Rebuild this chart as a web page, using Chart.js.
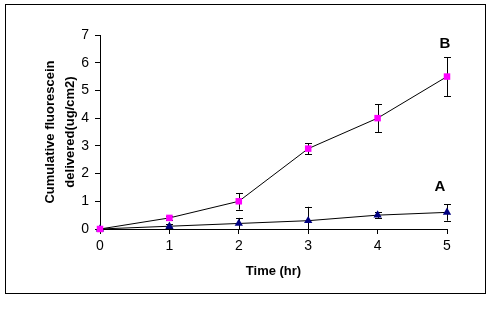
<!DOCTYPE html>
<html>
<head>
<meta charset="utf-8">
<script src="https://cdn.jsdelivr.net/npm/chart.js@4"></script>
<style>
  body { margin: 0; background: #fff; }
  #wrap { position: relative; width: 503px; height: 325px; }
  #frame { position: absolute; left: 5px; top: 4px; width: 479px; height: 288px; border: 1px solid #000; pointer-events: none; }
</style>
</head>
<body>
<div id="wrap">
  <canvas id="chart" width="503" height="325"></canvas>
  <div id="frame"></div>
</div>
<script>
const times = [0, 1, 2, 3, 4, 5];
const seriesB = [0, 0.4, 1.0, 2.9, 4.0, 5.5];
const errorsB = [0, 0.08, 0.3, 0.2, 0.5, 0.7];
const seriesA = [0, 0.1, 0.2, 0.3, 0.5, 0.6];
const errorsA = [0, 0.08, 0.2, 0.5, 0.1, 0.3];
const seriesNames = ['B', 'A'];
const yTicks = [0, 1, 2, 3, 4, 5, 6, 7];

const fontFamily = '"Liberation Sans", Arial, sans-serif';

// error bars + end labels, drawn through the chart's own scales
const errorBarPlugin = {
    id: 'errorBars',
    beforeDatasetsDraw(chart) {
        const ctx = chart.ctx;
        const xs = chart.scales.x;
        const ys = chart.scales.y;
        ctx.save();
        ctx.strokeStyle = '#000';
        ctx.lineWidth = 1;
        chart.data.datasets.forEach(ds => {
            ds.data.forEach((p, i) => {
                const e = ds.errors[i];
                if (!e) return;
                const x = Math.round(xs.getPixelForValue(p.x)) + 0.5;
                const top = ys.getPixelForValue(p.y + e);
                const bot = ys.getPixelForValue(Math.max(0, p.y - e));
                ctx.beginPath();
                ctx.moveTo(x, top); ctx.lineTo(x, bot);
                ctx.moveTo(x - 3.5, Math.round(top) + 0.5); ctx.lineTo(x + 3.5, Math.round(top) + 0.5);
                if (p.y - e > 0) {
                    ctx.moveTo(x - 3.5, Math.round(bot) + 0.5); ctx.lineTo(x + 3.5, Math.round(bot) + 0.5);
                }
                ctx.stroke();
            });
            // series letter above the last error bar
            const last = ds.data.length - 1;
            const lp = ds.data[last];
            ctx.fillStyle = '#000';
            ctx.font = 'bold 15px ' + fontFamily;
            ctx.textAlign = 'center';
            ctx.textBaseline = 'middle';
            ctx.fillText(ds.label, xs.getPixelForValue(lp.x) + ds.labelDx,
                ys.getPixelForValue(lp.y + ds.errors[last]) - ds.labelGap);
        });
        ctx.restore();
    }
};

new Chart(document.getElementById('chart'), {
    type: 'line',
    data: {
        datasets: [{
            label: seriesNames[0],
            data: times.map((t, i) => ({ x: t, y: seriesB[i] })),
            errors: errorsB,
            labelDx: -2,
            labelGap: 13,
            clip: false,
            borderColor: '#000',
            borderWidth: 1,
            pointStyle: 'rect',
            pointRadius: 4.6,
            pointBackgroundColor: '#ff00ff',
            pointBorderColor: '#ff00ff',
            pointBorderWidth: 0,
            order: 0
        }, {
            label: seriesNames[1],
            data: times.map((t, i) => ({ x: t, y: seriesA[i] })),
            errors: errorsA,
            labelDx: -7,
            labelGap: 17,
            clip: false,
            borderColor: '#000',
            borderWidth: 1,
            pointStyle: 'triangle',
            pointRadius: 4.8,
            pointBackgroundColor: '#000080',
            pointBorderColor: '#000080',
            pointBorderWidth: 0,
            order: 1
        }]
    },
    options: {
        responsive: false,
        animation: false,
        layout: { padding: { left: 0, top: 35, right: 56, bottom: 36 } },
        plugins: { legend: { display: false }, tooltip: { enabled: false } },
        scales: {
            x: {
                type: 'linear',
                min: 0,
                max: 5,
                ticks: { stepSize: 1, color: '#000', padding: 4, font: { family: fontFamily, size: 14 } },
                grid: { drawOnChartArea: false, drawTicks: true, tickLength: 5, color: '#000' },
                border: { display: true, color: '#000', width: 1 },
                title: { display: true, text: 'Time (hr)', color: '#000', padding: { top: 0, bottom: 10 },
                         font: { family: fontFamily, size: 13, weight: 'bold' } },
                afterFit(scale) { scale.height = 60; }
            },
            y: {
                min: 0,
                max: 7,
                afterBuildTicks(scale) { scale.ticks = yTicks.map(v => ({ value: v })); },
                ticks: { color: '#000', padding: 6, font: { family: fontFamily, size: 14 } },
                grid: { drawOnChartArea: false, drawTicks: true, tickLength: 5, color: '#000' },
                border: { display: true, color: '#000', width: 1 },
                title: { display: true, text: ['Cumulative fluorescein', 'delivered(ug/cm2)'], color: '#000',
                         padding: { top: 40, bottom: 0 },
                         font: { family: fontFamily, size: 13, weight: 'bold', lineHeight: 1.54 } },
                afterFit(scale) { scale.width = 100; }
            }
        }
    },
    plugins: [errorBarPlugin]
});
</script>
</body>
</html>
